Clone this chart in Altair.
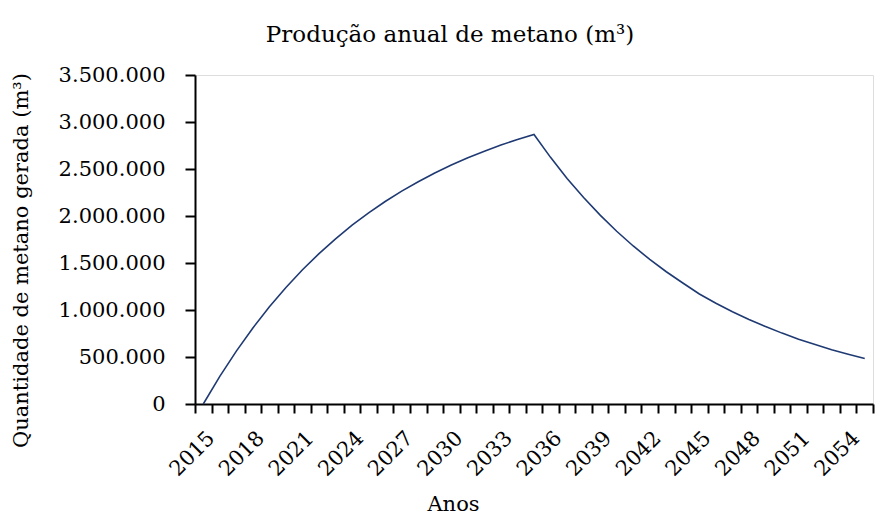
import altair as alt
import pandas as pd

years = list(range(2015, 2056))
methane = [
    0, 294000, 563000, 809000, 1034000, 1239000, 1428000, 1600000, 1757000, 1902000,
    2033000, 2154000, 2265000, 2365000, 2458000, 2542000, 2620000, 2690000, 2755000, 2814000,
    2868000,
    2624000, 2400000, 2196000, 2009000, 1838000, 1681000, 1538000, 1407000, 1287000, 1170000,
    1072000, 982000, 900000, 824000, 754000, 690000, 632000, 578000, 529000, 484000,
]
y_ticks = [0, 500000, 1000000, 1500000, 2000000, 2500000, 3000000, 3500000]

df = pd.DataFrame({"ano": years, "metano": methane})

FONT = "DejaVu Serif"

chart = (
    alt.Chart(df)
    .mark_line(color="#1f3a73", strokeWidth=1.6)
    .encode(
        x=alt.X(
            "ano:O",
            bandPosition=0.5,
            scale=alt.Scale(type="band", paddingInner=0, paddingOuter=0),
            axis=alt.Axis(
                title="Anos",
                tickBand="extent",
                labelAngle=-45,
                labelExpr="(datum.value - 2015) % 3 == 0 ? datum.label : ''",
                labelOverlap=False,
                labelFont=FONT,
                labelFontSize=21,
                labelColor="black",
                labelPadding=14,
                tickSize=9,
                tickWidth=2,
                tickColor="black",
                domainColor="black",
                domainWidth=2,
                titleFont=FONT,
                titleFontSize=21,
                titleFontWeight="normal",
                titleColor="black",
                titleX=258,
                titlePadding=14,
                grid=False,
            ),
        ),
        y=alt.Y(
            "metano:Q",
            scale=alt.Scale(domain=[0, 3500000], nice=False),
            axis=alt.Axis(
                title="Quantidade de metano gerada (m³)",
                values=y_ticks,
                format=",.0f",
                labelFont=FONT,
                labelFontSize=21,
                labelColor="black",
                labelPadding=20,
                tickSize=10,
                tickWidth=2,
                tickColor="black",
                domainColor="black",
                domainWidth=2,
                titleFont=FONT,
                titleFontSize=21,
                titleFontWeight="normal",
                titleColor="black",
                titleY=185,
                titlePadding=27,
                grid=False,
            ),
        ),
    )
    .properties(
        width=870,
        height=507,
        autosize=alt.AutoSizeParams(type="fit", contains="padding"),
        title=alt.TitleParams(
            "Produção anual de metano (m³)",
            font=FONT,
            fontSize=23,
            fontWeight="normal",
            color="black",
            dx=-84,
            offset=17,
        ),
        padding={"left": 2, "top": 16, "right": 0, "bottom": 0},
    )
    .configure_view(stroke=None)
    .configure(
        locale=alt.Locale(
            number=alt.NumberLocale(
                decimal=",", thousands=".", grouping=[3], currency=["R$", ""]
            )
        )
    )
)

chart.save("out.html", embed_options={"renderer": "svg", "actions": False})
